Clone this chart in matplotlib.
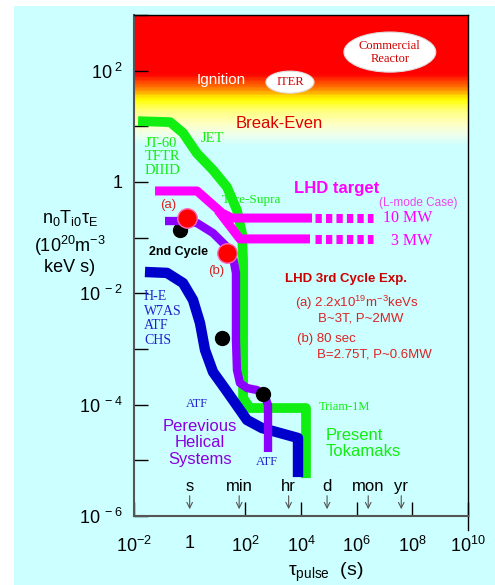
import numpy as np
import matplotlib.pyplot as plt
from matplotlib.patches import Ellipse, Rectangle
from matplotlib.colors import LinearSegmentedColormap
from matplotlib.ticker import NullLocator

plt.rcParams['font.family'] = ['Liberation Sans', 'DejaVu Sans']
plt.rcParams['mathtext.fontset'] = 'custom'
plt.rcParams['mathtext.rm'] = 'Liberation Sans'
plt.rcParams['mathtext.it'] = 'Liberation Sans:italic'
plt.rcParams['mathtext.bf'] = 'Liberation Sans:bold'

# pulse length (s) vs n0 Ti0 tauE (1e20 m^-3 keV s)
tok_t = [0.014, 0.20, 0.58, 1.8, 6.9, 22, 50, 76, 83, 83, 147, 1.51e4, 1.51e4]
tok_v = [12.4, 11.9, 7.6, 3.3, 1.64, 0.81, 0.31, 0.12, 0.040, 1.32e-4, 8.7e-5, 8.7e-5, 4.8e-6]

mw10_t = [0.057, 1.84, 14.5, 33, 2.49e4]
mw10_v = [0.69, 0.69, 0.277, 0.225, 0.225]
mw3_t = [10.4, 64, 2.11e4]
mw3_v = [0.31, 0.095, 0.095]
future_t = [3.19e4, 3.87e6]

lhd_t = [0.13, 0.45, 1.84, 6.9, 22, 36, 46, 46, 50, 64, 115, 263, 510, 653, 653]
lhd_v = [0.199, 0.199, 0.183, 0.121, 0.068, 0.045, 0.0232, 1.45e-3, 4.2e-4, 2.45e-4,
         1.99e-4, 1.83e-4, 1.37e-4, 9.9e-5, 1.41e-5]

hel_t = [0.0248, 0.153, 0.577, 1.32, 2.35, 3.56, 6.9, 20.2, 115, 397, 7800, 7800]
hel_v = [0.0242, 0.0233, 0.0153, 7.6e-3, 2.93e-3, 9.6e-4, 3.87e-4, 1.83e-4, 5.3e-5,
         3.8e-5, 2.52e-5, 5.0e-6]

red_t = [0.80, 22]
red_v = [0.225, 0.053]
black_t = [0.45, 14.5, 431]
black_v = [0.137, 1.57e-3, 1.55e-4]

xticks = [1e-2, 1, 1e2, 1e4, 1e6, 1e8, 1e10]
xlabels = ['10$^{-2}$', '1', '10$^{2}$', '10$^{4}$', '10$^{6}$', '10$^{8}$', '10$^{10}$']
yticks = [1e-6, 1e-5, 1e-4, 1e-3, 1e-2, 1e-1, 1, 1e1, 1e2, 1e3]
ylabels = ['10$^{\\ -6}$', '', '10$^{\\ -4}$', '', '10$^{\\ -2}$', '', '1', '', '10$^{\\ 2}$', '']

units = ['s', 'min', 'hr', 'd', 'mon', 'yr']
unit_t = [1, 60, 3600, 86400, 2.6e6, 4e7]

cyan = '#ccffff'
green = '#11ee11'

fig = plt.figure(figsize=(4.95, 5.85), dpi=100, facecolor='white')
fig.patches.append(Rectangle((14 / 495, 0), 1, 1 - 6 / 585, transform=fig.transFigure,
                             facecolor=cyan, edgecolor='none', zorder=-10))
ax = fig.add_axes([134 / 495, 69 / 585, 334 / 495, 501 / 585])
ax.set_facecolor(cyan)

grad = LinearSegmentedColormap.from_list('bg', [
    (0, cyan), (0.741, cyan), (0.762, '#eeffee'), (0.786, '#ffffc0'), (0.810, '#ffff80'),
    (0.834, '#ffff00'), (0.850, '#ffa000'), (0.866, '#ff5000'), (0.884, '#ff0000'), (1, '#ff0000')])
ax.imshow(np.linspace(0, 1, 400).reshape(-1, 1), cmap=grad, aspect='auto', origin='lower',
          extent=[0, 1, 0, 1], transform=ax.transAxes, zorder=0)

ax.set_xscale('log')
ax.set_yscale('log')
ax.set_xlim(1e-2, 1e10)
ax.set_ylim(1e-6, 1e3)

kw = dict(solid_joinstyle='round', solid_capstyle='butt')
ax.plot(tok_t, tok_v, color=green, lw=7, zorder=2, **kw)
ax.plot(hel_t, hel_v, color='#0000cc', lw=7.5, zorder=3, **kw)
ax.plot(black_t[:1], black_v[:1], 'o', color='black', ms=10, zorder=3.5)
ax.plot(lhd_t, lhd_v, color='#8c00ff', lw=6, zorder=4, **kw)
ax.plot(mw10_t, mw10_v, color='#ff00ff', lw=6.5, zorder=5, **kw)
ax.plot(mw3_t, mw3_v, color='#ff00ff', lw=6.5, zorder=5, **kw)
for v in (mw10_v[-1], mw3_v[-1]):
    ax.plot(future_t, [v, v], color='#ff00ff', lw=6.5, linestyle=(0, (0.7, 0.46)),
            dash_capstyle='butt', zorder=5)
ax.plot(black_t[1:], black_v[1:], 'o', color='black', ms=10, zorder=6)
ax.plot(red_t, red_v, 'o', color='#ff0000', ms=14, mec='#ff66bb', mew=1, zorder=7)

ax.set_xticks(xticks)
ax.set_xticklabels(xlabels)
ax.set_yticks(yticks)
ax.set_yticklabels(ylabels)
ax.xaxis.set_minor_locator(NullLocator())
ax.yaxis.set_minor_locator(NullLocator())
ax.tick_params(direction='in', length=10, width=1, color='black')
ax.tick_params(axis='x', pad=14, labelsize=13)
ax.tick_params(axis='y', pad=8, labelsize=13)
ax.xaxis.get_major_ticks()[1].tick1line.set_visible(False)
for s in ('left', 'bottom'):
    ax.spines[s].set_color('#555555')
    ax.spines[s].set_linewidth(1.5)
for s in ('top', 'right'):
    ax.spines[s].set_color('black')
    ax.spines[s].set_linewidth(1)
ax.plot([1, 1], [0, -0.028], color='black', lw=1, transform=ax.transAxes, clip_on=False)

tr = ax.transAxes
serif = ['Liberation Serif', 'DejaVu Serif']

ax.text(0.260, 0.870, 'Ignition', color='white', fontsize=11, ha='center', va='center', transform=tr)
ax.add_patch(Ellipse((0.467, 0.866), 0.144, 0.044, transform=tr, facecolor='white',
                     edgecolor='#dddddd', lw=0.8, zorder=8))
ax.text(0.467, 0.866, 'ITER', family=serif, color='#cc0000', fontsize=9, ha='center',
        va='center', transform=tr, zorder=9)
ax.add_patch(Ellipse((0.766, 0.926), 0.275, 0.080, transform=tr, facecolor='white',
                     edgecolor='#dddddd', lw=0.8, zorder=8))
ax.text(0.766, 0.926, 'Commercial\nReactor', family=serif, color='#cc0000', fontsize=9,
        ha='center', va='center', linespacing=1.1, transform=tr, zorder=9)
ax.text(0.434, 0.784, 'Break-Even', color='#dd0000', fontsize=12, ha='center', va='center', transform=tr)

ax.text(0.033, 0.717, 'JT-60\nTFTR\nDIIID', family=serif, color=green, fontsize=10.5,
        ha='left', va='center', linespacing=1.05, transform=tr)
ax.text(0.234, 0.754, 'JET', family=serif, color=green, fontsize=10.5, ha='center', va='center', transform=tr)
ax.text(0.353, 0.631, 'Tore-Supra', family=serif, color=green, fontsize=9.5, ha='center', va='center', transform=tr)

ax.text(0.608, 0.653, 'LHD target', color='#ff00ff', fontsize=12, weight='bold',
        ha='center', va='center', transform=tr)
ax.text(0.850, 0.625, '(L-mode Case)', color='#ee44ee', fontsize=8.5, ha='center', va='center', transform=tr)
ax.text(0.820, 0.595, '10 MW', family=serif, color='#ff00ff', fontsize=11.5, ha='center', va='center', transform=tr)
ax.text(0.832, 0.549, '3 MW', family=serif, color='#ff00ff', fontsize=11.5, ha='center', va='center', transform=tr)

ax.text(0.635, 0.473, 'LHD 3rd Cycle Exp.', color='#cc0000', fontsize=9.5, weight='bold',
        ha='center', va='center', transform=tr)
red_txt = '#dd2222'
ax.text(0.482, 0.425, '(a) 2.2x10$^{19}$m$^{-3}$keVs', color=red_txt, fontsize=9.5, ha='left', va='center', transform=tr)
ax.text(0.551, 0.395, 'B~3T, P~2MW', color=red_txt, fontsize=9.5, ha='left', va='center', transform=tr)
ax.text(0.488, 0.353, '(b) 80 sec', color=red_txt, fontsize=9.5, ha='left', va='center', transform=tr)
ax.text(0.548, 0.323, 'B=2.75T, P~0.6MW', color=red_txt, fontsize=9.5, ha='left', va='center', transform=tr)

ax.text(0.132, 0.527, '2nd Cycle', color='black', fontsize=9, weight='bold', ha='center', va='center', transform=tr)
ax.text(0.102, 0.621, '(a)', color=red_txt, fontsize=9.5, ha='center', va='center', transform=tr)
ax.text(0.246, 0.489, '(b)', color=red_txt, fontsize=9.5, ha='center', va='center', transform=tr)

ax.text(0.030, 0.394, 'H-E\nW7AS\nATF\nCHS', family=serif, color='#2222cc', fontsize=10,
        ha='left', va='center', linespacing=1.15, transform=tr)
ax.text(0.189, 0.224, 'ATF', family=serif, color='#2222cc', fontsize=9, ha='center', va='center', transform=tr)
ax.text(0.398, 0.108, 'ATF', family=serif, color='#2222cc', fontsize=9, ha='center', va='center', transform=tr)
ax.text(0.198, 0.146, 'Perevious\nHelical\nSystems', color='#8800dd', fontsize=12,
        ha='center', va='center', linespacing=1.1, transform=tr)

ax.text(0.629, 0.218, 'Triam-1M', family=serif, color=green, fontsize=9, ha='center', va='center', transform=tr)
ax.text(0.575, 0.144, 'Present\nTokamaks', color=green, fontsize=12, ha='left', va='center',
        linespacing=1.1, transform=tr)

for name, t in zip(units, unit_t):
    ax.text(t, 0.058, name, color='black', fontsize=12, ha='center', va='center',
            transform=ax.get_xaxis_transform())
    ax.annotate('', xy=(t, 0.008), xytext=(t, 0.046), xycoords=ax.get_xaxis_transform(),
                textcoords=ax.get_xaxis_transform(),
                arrowprops=dict(arrowstyle='->', color='#555555', lw=0.8))

ax.text(-0.192, 0.595, 'n$_{\\mathrm{0}}$T$_{\\mathrm{i0}}$τ$_{\\mathrm{E}}$', fontsize=13,
        ha='center', va='center', transform=tr)
ax.text(-0.192, 0.539, '(10$^{20}$m$^{-3}$', fontsize=13, ha='center', va='center', transform=tr)
ax.text(-0.192, 0.497, 'keV s)', fontsize=13, ha='center', va='center', transform=tr)
ax.text(0.575, -0.112, 'τ$_{\\mathrm{pulse}}$  (s)', fontsize=14, ha='center', va='center', transform=tr)

fig.savefig('out.png', dpi=100, facecolor='white')
